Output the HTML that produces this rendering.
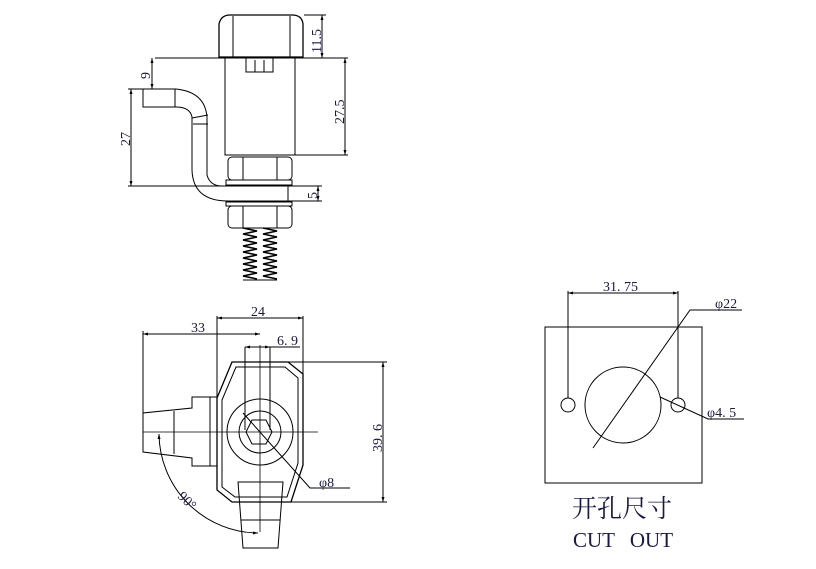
<!DOCTYPE html>
<html><head><meta charset="utf-8"><style>
html,body{margin:0;padding:0;background:#fff;}
svg{display:block;}
text{font-family:"Liberation Serif","Noto Serif CJK SC",serif;fill:#1a1a40;}
</style></head><body>
<svg width="816" height="569" viewBox="0 0 816 569" xmlns="http://www.w3.org/2000/svg">
<defs>
<marker id="a" viewBox="0 0 10 10" refX="10" refY="5" markerWidth="7" markerHeight="5" orient="auto-start-reverse"><path d="M0,2 L10,5 L0,8z" fill="#000"/></marker>
</defs>
<g fill="none" stroke="#000" stroke-width="1">
<!-- TOP VIEW -->
<path d="M219,57 L219,24 Q221,15 230,15 L292,15 Q302,15 303,24 L303,57 Z" stroke-width="1.3"/>
<line x1="233" y1="16" x2="233" y2="57"/><line x1="290" y1="16" x2="290" y2="57"/>
<rect x="225" y="58" width="70" height="97"/>
<rect x="246" y="58" width="27" height="14"/><line x1="255" y1="60" x2="255" y2="72"/><line x1="264" y1="60" x2="264" y2="72"/>
<rect x="228" y="157" width="64" height="23" rx="4"/>
<line x1="243" y1="157" x2="243" y2="180"/><line x1="277" y1="157" x2="277" y2="180"/>
<rect x="226" y="180" width="66" height="5"/>
<path d="M143,89 L176,89 Q205,92 207,117 L207,175 Q210,186 222,186 L288,186 L288,201 L228,201 Q193,201 192,170 L192,117 Q190,107 176,107 L143,107 Z"/>
<line x1="175" y1="89" x2="175" y2="107"/>
<path d="M192,118 L208,115 M193,124 L208,124"/>
<rect x="226" y="202" width="66" height="4"/>
<rect x="228" y="206" width="64" height="22" rx="4"/>
<line x1="243" y1="206" x2="243" y2="228"/><line x1="277" y1="206" x2="277" y2="228"/>
<path d="M243,228 L257,231 L243,234 L257,237 L243,240 L257,243 L243,246 L257,249 L243,252 L257,255 L243,258 L257,261 L243,264 L257,267 L243,270 L257,273 L243,276 L257,279" stroke-width="1.5"/>
<path d="M263,228 L277,231 L263,234 L277,237 L263,240 L277,243 L263,246 L277,249 L263,252 L277,255 L263,258 L277,261 L263,264 L277,267 L263,270 L277,273 L263,276 L277,279" stroke-width="1.5"/>
<line x1="243" y1="280" x2="277" y2="280"/>
<!-- top dims -->
<line x1="155" y1="58" x2="348" y2="58"/>
<line x1="304" y1="15" x2="326" y2="15"/>
<line x1="322" y1="15" x2="322" y2="58" marker-start="url(#a)" marker-end="url(#a)"/>
<line x1="345" y1="58" x2="345" y2="155" marker-start="url(#a)" marker-end="url(#a)"/>
<line x1="295" y1="155" x2="348" y2="155"/>
<line x1="152" y1="58" x2="152" y2="89" marker-start="url(#a)" marker-end="url(#a)"/>
<line x1="128" y1="89" x2="143" y2="89"/>
<line x1="131" y1="89" x2="131" y2="186" marker-start="url(#a)" marker-end="url(#a)"/>
<line x1="128" y1="186" x2="322" y2="186"/>
<line x1="288" y1="201" x2="322" y2="201"/>
<line x1="318" y1="186" x2="318" y2="201" marker-start="url(#a)" marker-end="url(#a)"/>
<!-- BOTTOM VIEW -->
<path d="M232,362 L288,362 L303,374 L303,465 L291,502 L232,502 L217,490 L217,398 Z" stroke-width="1.3"/>
<path d="M236,367 L285,367 L298,378 L298,463 L287,497 L235,497 L222,487 L222,400 Z"/>
<path d="M210,397 L192,397 L192,408 L143,413 L143,452 L192,458 L192,466 L210,466 Z"/>
<line x1="210" y1="397" x2="217" y2="397"/><line x1="210" y1="466" x2="217" y2="466"/>
<line x1="174" y1="411" x2="174" y2="454"/>
<path d="M238,482 L283,482 L278,548 L243,548 Z"/>
<line x1="241" y1="520" x2="280" y2="520"/>
<circle cx="260" cy="432" r="33"/>
<circle cx="260" cy="432" r="21"/>
<path d="M252,420 L266,420 L272,432 L266,444 L252,444 L246,432 Z"/>
<line x1="143" y1="432" x2="318" y2="432" stroke-width="0.8"/>
<line x1="260" y1="345" x2="260" y2="532" stroke-width="0.8"/>
<line x1="245" y1="347" x2="245" y2="430"/><line x1="270" y1="347" x2="270" y2="430"/>
<!-- bottom dims -->
<line x1="217" y1="316" x2="217" y2="398"/><line x1="303" y1="316" x2="303" y2="374"/>
<line x1="217" y1="318" x2="303" y2="318" marker-start="url(#a)" marker-end="url(#a)"/>
<line x1="143" y1="331" x2="143" y2="413"/>
<line x1="143" y1="334" x2="260" y2="334" marker-start="url(#a)" marker-end="url(#a)"/>
<line x1="245" y1="347" x2="270" y2="347" marker-start="url(#a)" marker-end="url(#a)"/>
<line x1="270" y1="347" x2="300" y2="347"/>
<line x1="288" y1="362" x2="387" y2="362"/><line x1="291" y1="502" x2="387" y2="502"/>
<line x1="383" y1="362" x2="383" y2="502" marker-start="url(#a)" marker-end="url(#a)"/>
<path d="M243,413 L310,488 L350,488"/>
<path d="M159,434 A100,100 0 0 0 258,533" marker-start="url(#a)" marker-end="url(#a)"/>
<!-- CUTOUT -->
<rect x="545" y="327" width="157" height="156"/>
<circle cx="623" cy="405" r="38"/>
<circle cx="568" cy="405" r="7"/><circle cx="678" cy="405" r="7"/>
<line x1="568" y1="291" x2="568" y2="398"/><line x1="678" y1="291" x2="678" y2="398"/>
<line x1="568" y1="293" x2="678" y2="293" marker-start="url(#a)" marker-end="url(#a)"/>
<path d="M593,448 L690,310 L742,310"/>
<path d="M660,397 L708,419 L744,419"/>
</g>
<g font-size="14">
<text x="0" y="0" transform="translate(321,53) rotate(-90)">11.5</text>
<text x="0" y="0" transform="translate(344,124) rotate(-90)">27.5</text>
<text x="0" y="0" transform="translate(150,79) rotate(-90)">9</text>
<text x="0" y="0" transform="translate(130,146) rotate(-90)">27</text>
<text x="0" y="0" transform="translate(317,199) rotate(-90)">5</text>
<text x="251" y="316">24</text>
<text x="191" y="332">33</text>
<text x="277" y="345">6. 9</text>
<text x="0" y="0" transform="translate(382,452) rotate(-90)">39. 6</text>
<text x="319" y="487">φ8</text>
<text x="0" y="0" transform="translate(177,497) rotate(45)">90°</text>
<text x="603" y="291">31. 75</text>
<text x="715" y="308">φ22</text>
<text x="707" y="417">φ4. 5</text>
</g>
<text x="572" y="517" font-size="25" style="font-family:'Noto Serif CJK SC','Noto Sans CJK SC',serif">开孔尺寸</text>
<text x="573" y="547" font-size="21" word-spacing="10">CUT OUT</text>
</svg>
</body></html>
